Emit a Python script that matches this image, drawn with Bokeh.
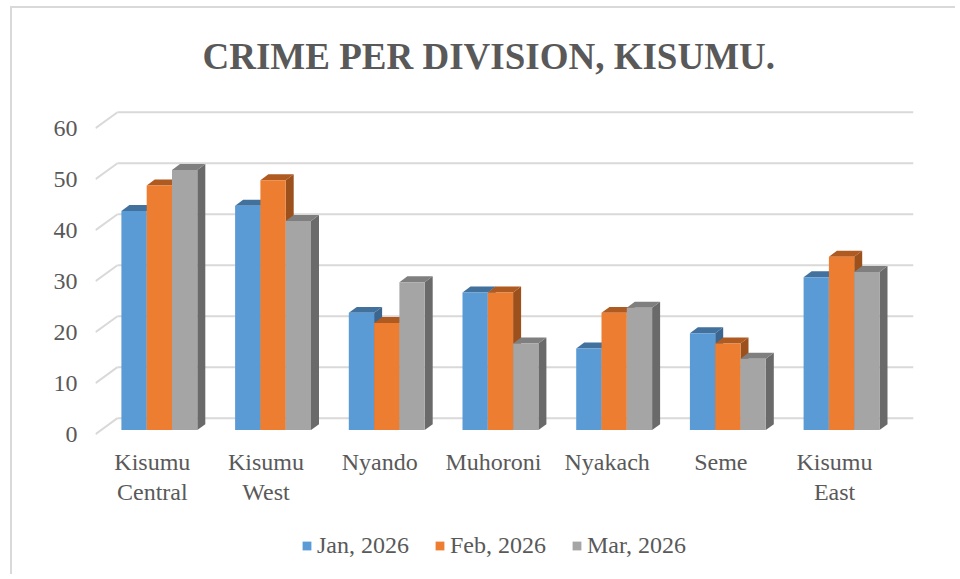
from bokeh.plotting import figure
from bokeh.models import Range1d, FixedTicker, Legend, LegendItem
from bokeh.embed import file_html
from bokeh.resources import INLINE

# ---- data ----
divisions = ["Kisumu\nCentral", "Kisumu\nWest", "Nyando", "Muhoroni", "Nyakach", "Seme", "Kisumu\nEast"]
series_names = ["Jan, 2026", "Feb, 2026", "Mar, 2026"]
jan = [43, 44, 23, 27, 16, 19, 30]
feb = [48, 49, 21, 27, 23, 17, 34]
mar = [51, 41, 29, 17, 24, 14, 31]
y_ticks = [0, 10, 20, 30, 40, 50, 60]

# ---- style ----
front_colors = ["#5B9BD5", "#ED7D31", "#A5A5A5"]
top_colors = ["#41719C", "#AE5A21", "#7F7F7F"]
side_colors = ["#3A6690", "#9C501C", "#6A6A6A"]
TXT = "#595959"
FONT = "Liberation Serif"

W, H = 945, 568
FL, FR, FT = 83, 901, 91     # frame edges in canvas px (frame runs to the bottom)
PX_X = 113.7     # px per category slot
PX_Y = 5.12      # px per value unit
Y0 = 425         # canvas y of value 0 on the front plane
AXIS_Y = 431     # canvas y where the category labels hang from
x_end = (FR - FL) / PX_X
y_start = -(H - Y0) / PX_Y
y_end = (Y0 - FT) / PX_Y

def ux(px):
    return px / PX_X

def uy(px):
    return px / PX_Y

wall_dx, wall_dy = ux(22), uy(16)
shift_x, shift_y = ux(7), uy(4)
depth_x, depth_y = ux(8), uy(6)
bw = ux(25.3)

p = figure(width=W, height=H, output_backend="svg", toolbar_location=None,
           x_range=Range1d(0, x_end), y_range=Range1d(y_start, y_end),
           min_border_left=FL, min_border_right=W - FR, min_border_top=FT,
           min_border_bottom=0)
p.outline_line_color = None
p.xgrid.visible = False
p.ygrid.visible = False
p.background_fill_color = "white"
p.border_fill_color = "white"
p.styles = {"margin-left": "10px", "margin-top": "6px",
            "border-left": "2px solid #D9D9D9", "border-top": "2px solid #D9D9D9"}

# title
p.title.text = "CRIME PER DIVISION, KISUMU."
p.title.text_font = FONT
p.title.text_font_size = "37px"
p.title.text_font_style = "bold"
p.title.text_color = TXT
p.title.align = "left"
p.title.offset = 107
p.title.standoff = 50

# back wall gridlines and left diagonals
ticks_back = [t + wall_dy for t in y_ticks]
p.segment(x0=[wall_dx] * len(y_ticks), y0=ticks_back, x1=[x_end] * len(y_ticks), y1=ticks_back,
          line_color="#D9D9D9", line_width=2)
p.segment(x0=[0] * len(y_ticks), y0=y_ticks, x1=[wall_dx] * len(y_ticks), y1=ticks_back,
          line_color="#D9D9D9", line_width=2)

# bars
all_series = [jan, feb, mar]
fronts = []
for k, vals in enumerate(all_series):
    xc = [i + 0.5 + (k - 1) * bw + shift_x for i in range(len(vals))]
    xl = [c - bw / 2 for c in xc]
    xr = [c + bw / 2 for c in xc]
    b = shift_y
    tops = [v + shift_y for v in vals]
    side_xs = [[r, r + depth_x, r + depth_x, r] for r in xr]
    side_ys = [[b, b + depth_y, t + depth_y, t] for t in tops]
    top_xs = [[l, l + depth_x, r + depth_x, r] for l, r in zip(xl, xr)]
    top_ys = [[t, t + depth_y, t + depth_y, t] for t in tops]
    p.patches(side_xs, side_ys, fill_color=side_colors[k], line_color=None)
    p.patches(top_xs, top_ys, fill_color=top_colors[k], line_color=None)
    r = p.vbar(x=xc, width=bw, bottom=b, top=tops, fill_color=front_colors[k], line_color=None)
    fronts.append(r)

# axes
p.yaxis.ticker = FixedTicker(ticks=y_ticks)
p.yaxis.bounds = (0, 60)
p.yaxis.axis_line_color = None
p.yaxis.major_tick_line_color = None
p.yaxis.minor_tick_line_color = None
p.yaxis.major_label_standoff = 12
p.yaxis.major_label_text_font = FONT
p.yaxis.major_label_text_font_size = "24px"
p.yaxis.major_label_text_color = TXT

cat_pos = [i + 0.5 for i in range(len(divisions))]
p.xaxis.ticker = FixedTicker(ticks=cat_pos)
p.xaxis.major_label_overrides = {pos: name for pos, name in zip(cat_pos, divisions)}
p.xaxis.fixed_location = -(AXIS_Y - Y0) / PX_Y
p.xaxis.axis_line_color = None
p.xaxis.major_tick_line_color = None
p.xaxis.minor_tick_line_color = None
p.xaxis.major_label_standoff = 3
p.xaxis.major_label_text_font = FONT
p.xaxis.major_label_text_font_size = "24px"
p.xaxis.major_label_text_color = TXT
p.xaxis.major_label_text_line_height = 1.15

legend = Legend(items=[LegendItem(label=n, renderers=[r]) for n, r in zip(series_names, fronts)],
                orientation="horizontal", location=(206, 17))
legend.label_text_font = FONT
legend.label_text_font_size = "24px"
legend.label_text_color = TXT
legend.glyph_width = 11
legend.glyph_height = 11
legend.label_standoff = 5
legend.spacing = 25
legend.padding = 0
legend.margin = 0
legend.border_line_color = None
legend.background_fill_alpha = 0
p.add_layout(legend, "center")

open("out.html", "w").write(file_html(p, INLINE))
